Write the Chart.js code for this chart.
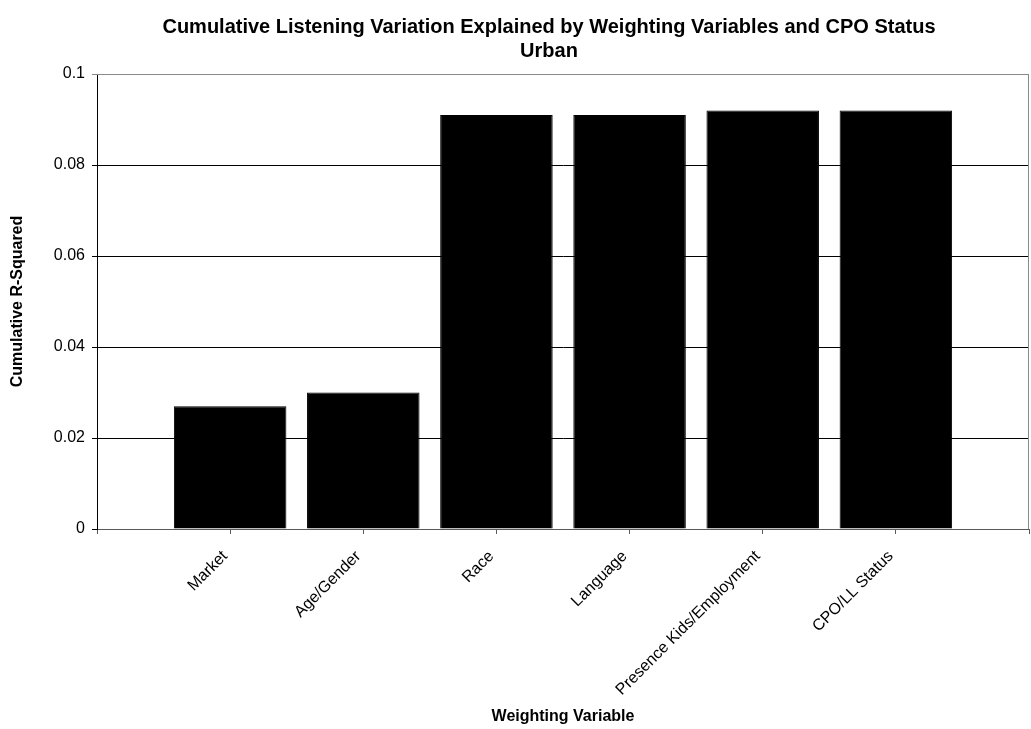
<!DOCTYPE html>
<html>
<head>
<meta charset="utf-8">
<script src="https://cdn.jsdelivr.net/npm/chart.js@4/dist/chart.umd.min.js"></script>
<style>
  html, body { margin: 0; padding: 0; background: #ffffff; }
  canvas { display: block; }
</style>
</head>
<body>
<canvas id="chart" width="1031" height="729"></canvas>
<script>
// Weighting variables, in the order they are added to the model
const categories = ['Market', 'Age/Gender', 'Race', 'Language', 'Presence Kids/Employment', 'CPO/LL Status'];
// Cumulative R-squared after each variable is added
const rSquared = [0.027, 0.030, 0.091, 0.091, 0.092, 0.092];
// Value-axis ticks
const yTicks = [0, 0.02, 0.04, 0.06, 0.08, 0.1];
const titleLines = ['Cumulative Listening Variation Explained by Weighting Variables and CPO Status', 'Urban'];
const xTitle = 'Weighting Variable';
const yTitle = 'Cumulative R-Squared';

const FONT = '"Liberation Sans", Arial, Helvetica, sans-serif';

// An empty slot on each side keeps the bars off the plot edges
const labels = [''].concat(categories, ['']);
const values = [null].concat(rSquared, [null]);

// Two-line heading, plus a light frame on the top and right of the plot
const framePlugin = {
  id: 'frameAndHeading',
  afterDraw(chart) {
    const { ctx, chartArea } = chart;
    ctx.save();
    ctx.strokeStyle = '#8a8a8a';
    ctx.lineWidth = 1;
    ctx.beginPath();
    const top = Math.round(chartArea.top) + 0.5;
    const right = Math.round(chartArea.right) - 0.5;
    ctx.moveTo(Math.round(chartArea.left), top);
    ctx.lineTo(right, top);
    ctx.lineTo(right, Math.round(chartArea.bottom));
    ctx.stroke();

    ctx.fillStyle = '#000';
    ctx.font = 'bold 20px ' + FONT;
    ctx.textAlign = 'center';
    ctx.textBaseline = 'alphabetic';
    ctx.fillText(titleLines[0], 549, 33);
    ctx.fillText(titleLines[1], 549, 56.5);
    ctx.restore();
  }
};

new Chart(document.getElementById('chart'), {
  type: 'bar',
  data: {
    labels: labels,
    datasets: [{
      data: values,
      backgroundColor: '#000000',
      borderColor: '#000000',
      borderWidth: 1,
      barPercentage: 0.845,
      categoryPercentage: 1.0
    }]
  },
  plugins: [framePlugin],
  options: {
    responsive: false,
    animation: false,
    devicePixelRatio: 1,
    layout: { padding: { top: 74, right: 2, bottom: 0, left: 0 } },
    plugins: {
      legend: { display: false },
      title: { display: false },
      tooltip: { enabled: false }
    },
    scales: {
      x: {
        type: 'category',
        offset: false,
        afterFit(scale) {
          scale.height = 200;
          scale.paddingLeft = 0;
          scale.paddingRight = 0;
        },
        grid: {
          display: true,
          offset: false,
          drawOnChartArea: false,
          drawTicks: true,
          tickLength: 5,
          color: '#5a5a5a'
        },
        border: { display: true, color: '#5a5a5a', width: 1 },
        ticks: {
          autoSkip: false,
          minRotation: 45,
          maxRotation: 45,
          padding: 13,
          labelOffset: -5,
          color: '#000',
          font: { family: FONT, size: 16 }
        },
        title: {
          display: true,
          text: xTitle,
          color: '#000',
          font: { family: FONT, size: 16, weight: 'bold', lineHeight: 1.2 },
          padding: { top: 4, bottom: 3 }
        }
      },
      y: {
        min: 0,
        max: 0.1,
        afterFit(scale) { scale.width = 97; },
        afterBuildTicks(scale) { scale.ticks = yTicks.map(v => ({ value: v })); },
        grid: {
          display: true,
          drawTicks: true,
          tickLength: 5,
          lineWidth: 1,
          color: (ctx) => (ctx.index === yTicks.length - 1 ? '#8a8a8a' : '#000000')
        },
        border: { display: true, color: '#000', width: 1 },
        ticks: {
          padding: 7,
          color: '#000',
          font: { family: FONT, size: 16 },
          callback: (v) => String(+v.toFixed(2))
        },
        title: {
          display: true,
          text: yTitle,
          color: '#000',
          font: { family: FONT, size: 16, weight: 'bold', lineHeight: 1.2 },
          padding: { top: 8, bottom: 0 }
        }
      }
    }
  }
});
</script>
</body>
</html>
